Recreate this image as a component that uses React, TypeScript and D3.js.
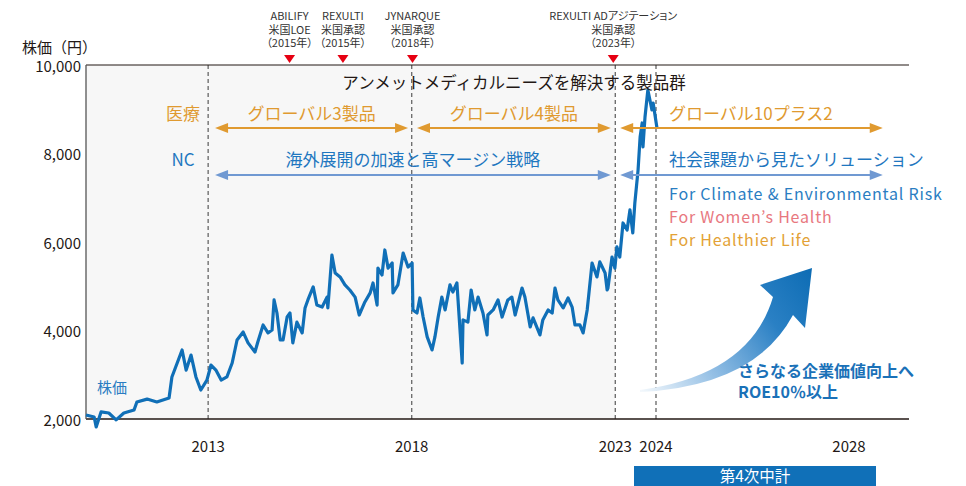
import React from 'react';
import * as d3 from 'd3';

// Stock price (decimal year, yen)
const priceDates = [
  2010.0, 2010.2, 2010.25, 2010.37, 2010.56, 2010.74, 2010.93, 2011.18, 2011.25, 2011.5, 2011.74,
  2012.04, 2012.11, 2012.24, 2012.36, 2012.46, 2012.58, 2012.7, 2012.82, 2012.97, 2013.07, 2013.19,
  2013.32, 2013.46, 2013.59, 2013.71, 2013.86, 2013.98, 2014.15, 2014.22, 2014.35, 2014.47, 2014.57,
  2014.62, 2014.69, 2014.77, 2014.84, 2014.94, 2015.01, 2015.08, 2015.18, 2015.31, 2015.38, 2015.45,
  2015.58, 2015.67, 2015.8, 2015.92, 2015.94, 2016.04, 2016.12, 2016.24, 2016.36, 2016.48, 2016.61,
  2016.71, 2016.85, 2016.98, 2017.05, 2017.15, 2017.17, 2017.27, 2017.34, 2017.42, 2017.52, 2017.54,
  2017.66, 2017.79, 2017.91, 2018.01, 2018.03, 2018.13, 2018.2, 2018.28, 2018.38, 2018.5, 2018.57,
  2018.65, 2018.74, 2018.82, 2018.94, 2019.01, 2019.11, 2019.24, 2019.26, 2019.38, 2019.46, 2019.55,
  2019.63, 2019.75, 2019.85, 2019.87, 2020.0, 2020.12, 2020.22, 2020.36, 2020.46, 2020.54, 2020.71,
  2020.78, 2020.91, 2020.98, 2021.15, 2021.22, 2021.35, 2021.45, 2021.52, 2021.59, 2021.72, 2021.84,
  2021.94, 2022.01, 2022.13, 2022.21, 2022.31, 2022.43, 2022.55, 2022.62, 2022.75, 2022.8, 2022.82,
  2022.92, 2022.99, 2023.04, 2023.11, 2023.19, 2023.29, 2023.36, 2023.43, 2023.48, 2023.56, 2023.61,
  2023.66, 2023.68, 2023.73, 2023.8, 2023.9, 2023.93, 2024.02,
];
const priceValues = [
  2090, 2045, 1820, 2160, 2135, 1980, 2135, 2205, 2385, 2450, 2385,
  2475, 2950, 3265, 3560, 3105, 3445, 2950, 2655, 2880, 3220, 3105,
  2880, 2950, 3265, 3785, 3965, 3720, 3515, 3740, 4125, 3945, 4010,
  4690, 4395, 3785, 3785, 4305, 4395, 3720, 4190, 3945, 4510, 4690,
  4985, 4575, 4530, 4755, 4510, 5705, 5300, 5210, 5030, 4915, 4755,
  4350, 4645, 4850, 5075, 4575, 5410, 5255, 5820, 5410, 5525, 4850,
  5030, 5750, 5435, 5525, 4465, 4395, 4735, 4305, 3855, 3560, 3855,
  4305, 4755, 4465, 5030, 4870, 5075, 3265, 4240, 4190, 4915, 4465,
  4755, 4395, 3900, 4350, 4465, 4690, 4305, 4690, 4755, 4350, 4960,
  4755, 4080, 4285, 3900, 4240, 4465, 4395, 4960, 4690, 4510, 4735,
  4530, 4125, 4125, 3945, 4465, 5525, 5210, 5550, 5300, 4915, 4960,
  5660, 5410, 5890, 5660, 6430, 6270, 6725, 6205, 6880, 7630, 8375,
  8690, 8150, 8825, 9435, 8985, 9140, 8575,
];

const yTicks = [2000, 4000, 6000, 8000, 10000];
const xTickYears = [2013, 2018, 2023, 2024, 2028];
const dividerYears = [2013, 2018, 2023, 2024];
const shadedYears = [2010, 2023];

const milestoneYears = [2015.0, 2016.31, 2018.02, 2022.95];
const milestoneLabels = [
  ['ABILIFY', '米国LOE', '（2015年）'],
  ['REXULTI', '米国承認', '（2015年）'],
  ['JYNARQUE', '米国承認', '（2018年）'],
  ['REXULTI ADアジテーション', '米国承認', '（2023年）'],
];

const orangeSpans = [[2013.17, 2017.91], [2018.13, 2022.89], [2023.12, 2028.7]];
const orangeLabels = ['グローバル3製品', 'グローバル4製品', 'グローバル10プラス2'];
const blueSpans = [[2013.17, 2022.89], [2023.12, 2028.7]];
const blueLabels = ['海外展開の加速と高マージン戦略', '社会課題から見たソリューション'];
const focusLabels = ['For Climate & Environmental Risk', 'For Women’s Health', 'For Healthier Life'];
const focusColors = ['#2a7dc2', '#e8787f', '#e3a236'];

const W = 966;
const H = 486;
const FONT = '"Noto Sans CJK JP", "Noto Sans", sans-serif';
const ORANGE = '#e09a30';
const BLUE_TXT = '#1f77c0';
const BLUE_ARROW = '#7099d2';
const DARK = '#231815';

function Arrow({ x1, x2, y, color }: { x1: number; x2: number; y: number; color: string }) {
  const hl = 13;
  const hh = 5;
  return (
    <g>
      <line x1={x1 + hl - 1} x2={x2 - hl + 1} y1={y} y2={y} stroke={color} strokeWidth={2} />
      <path d={`M${x1},${y} L${x1 + hl},${y - hh} L${x1 + hl},${y + hh} Z`} fill={color} />
      <path d={`M${x2},${y} L${x2 - hl},${y - hh} L${x2 - hl},${y + hh} Z`} fill={color} />
    </g>
  );
}

export default function App() {
  const x = d3.scaleLinear().domain([2010, 2024, 2028]).range([86, 656, 849]);
  const y = d3.scaleLinear().domain([2000, 10000]).range([419, 65]);
  const plotRight = 909;
  const data = priceDates.map((d, i) => [d, priceValues[i]] as [number, number]);
  const line = d3.line<[number, number]>().x((d) => x(d[0])).y((d) => y(d[1]));
  const fmt = d3.format(',');
  const yTop = y(10000);
  const yBot = y(2000);

  return (
    <svg width={W} height={H} style={{ position: 'absolute', left: 0, top: 0, fontFamily: FONT }}>
      <defs>
        <linearGradient id="bigArrow" gradientUnits="userSpaceOnUse" x1={640} y1={390} x2={812} y2={268}>
          <stop offset="0" stopColor="#f3f8fc" />
          <stop offset="0.35" stopColor="#8dbbe3" />
          <stop offset="0.7" stopColor="#2a80c4" />
          <stop offset="1" stopColor="#0d6cb4" />
        </linearGradient>
      </defs>
      <rect x={0} y={0} width={W} height={H} fill="#ffffff" />
      {/* shaded history area */}
      <rect
        x={x(shadedYears[0])}
        y={yTop}
        width={x(shadedYears[1]) - x(shadedYears[0])}
        height={yBot - yTop}
        fill="#f7f7f7"
      />
      {/* dividers */}
      {dividerYears.map((yr) => (
        <line key={yr} x1={x(yr)} x2={x(yr)} y1={yTop} y2={yBot} stroke="#666" strokeWidth={1.3} strokeDasharray="4,3" />
      ))}
      {/* axes */}
      <line x1={x(2010)} x2={plotRight} y1={yTop} y2={yTop} stroke={DARK} strokeWidth={1.2} />
      <line x1={x(2010)} x2={plotRight} y1={yBot} y2={yBot} stroke={DARK} strokeWidth={1.5} />
      <line x1={x(2010)} x2={x(2010)} y1={yTop} y2={yBot} stroke="#555" strokeWidth={1.3} />
      {yTicks.map((t) => (
        <text key={t} x={81} y={y(t)} textAnchor="end" dominantBaseline="central" fontSize={15} fill={DARK}>
          {fmt(t)}
        </text>
      ))}
      {xTickYears.map((t) => (
        <text key={t} x={x(t)} y={445} textAnchor="middle" dominantBaseline="central" fontSize={15} fill={DARK}>
          {t}
        </text>
      ))}
      <text x={22} y={46} dominantBaseline="central" fontSize={15} fill={DARK}>
        株価（円）
      </text>

      {/* milestones */}
      {milestoneYears.map((yr, i) => (
        <g key={i}>
          <path d={`M${x(yr) - 5.5},${55} L${x(yr) + 5.5},${55} L${x(yr)},${63} Z`} fill="#e60012" />
          <text
            x={x(yr)}
            y={20}
            textAnchor="middle"
            fontSize={11}
            fill="#333"
            style={{ fontFeatureSettings: '"palt"' }}
          >
            {milestoneLabels[i].map((s, j) => (
              <tspan key={j} x={x(yr)} dy={j === 0 ? 0 : 13.5}>
                {s}
              </tspan>
            ))}
          </text>
        </g>
      ))}

      {/* price line */}
      <path d={line(data) || ''} fill="none" stroke="#106fb7" strokeWidth={3.2} strokeLinejoin="round" />
      <text x={97} y={386} dominantBaseline="central" fontSize={15} fill="#2a7cc2">
        株価
      </text>

      {/* headline */}
      <text x={514} y={82} textAnchor="middle" dominantBaseline="central" fontSize={16.5} fill={DARK}>
        アンメットメディカルニーズを解決する製品群
      </text>

      {/* orange row */}
      <text x={183} y={112} textAnchor="middle" dominantBaseline="central" fontSize={17} fill={ORANGE}>
        医療
      </text>
      {orangeSpans.map((s, i) => (
        <Arrow key={i} x1={x(s[0])} x2={x(s[1])} y={128} color={ORANGE} />
      ))}
      {orangeLabels.map((s, i) => {
        const last = i === orangeLabels.length - 1;
        return (
          <text
            key={i}
            x={last ? x(2024) + 13 : (x(orangeSpans[i][0]) + x(orangeSpans[i][1])) / 2}
            y={112}
            textAnchor={last ? 'start' : 'middle'}
            dominantBaseline="central"
            fontSize={17}
            fill={ORANGE}
          >
            {s}
          </text>
        );
      })}

      {/* blue row */}
      <text x={183} y={158} textAnchor="middle" dominantBaseline="central" fontSize={17} fill={BLUE_TXT}>
        NC
      </text>
      {blueSpans.map((s, i) => (
        <Arrow key={i} x1={x(s[0])} x2={x(s[1])} y={175} color={BLUE_ARROW} />
      ))}
      {blueLabels.map((s, i) => {
        const last = i === blueLabels.length - 1;
        return (
          <text
            key={i}
            x={last ? x(2024) + 13 : (x(blueSpans[i][0]) + x(blueSpans[i][1])) / 2}
            y={158}
            textAnchor={last ? 'start' : 'middle'}
            dominantBaseline="central"
            fontSize={17}
            fill={BLUE_TXT}
          >
            {s}
          </text>
        );
      })}
      {focusLabels.map((s, i) => (
        <text
          key={i}
          x={x(2024) + 13}
          y={193 + i * 23}
          dominantBaseline="central"
          fontSize={16}
          letterSpacing={0.8}
          fill={focusColors[i]}
        >
          {s}
        </text>
      ))}

      {/* growth arrow */}
      <path
        d="M640,390 Q750,375 773,297 L760,285 L812,268 L805,328 L793,315 Q755,386 640,392 Z"
        fill="url(#bigArrow)"
      />
      <text x={738} y={370} dominantBaseline="central" fontSize={16} fontWeight="bold" fill="#1a71b8">
        さらなる企業価値向上へ
      </text>
      <text x={738} y={391} dominantBaseline="central" fontSize={16} fontWeight="bold" fill="#1a71b8">
        ROE10％以上
      </text>

      {/* plan bar */}
      <rect x={634} y={466} width={242} height={20} fill="#1070b8" />
      <text x={755} y={475} textAnchor="middle" dominantBaseline="central" fontSize={15.5} fill="#ffffff">
        第4次中計
      </text>
    </svg>
  );
}
